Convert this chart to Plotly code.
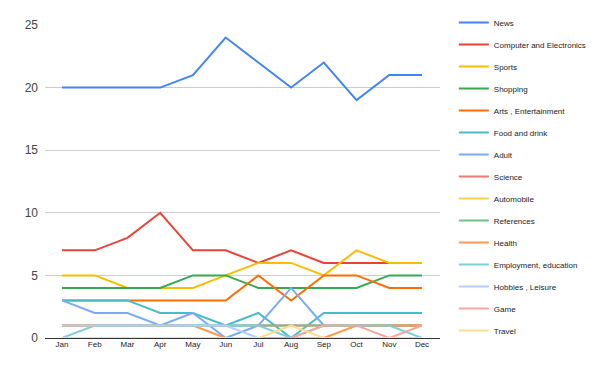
import plotly.graph_objects as go

months = ["Jan", "Feb", "Mar", "Apr", "May", "Jun", "Jul", "Aug", "Sep", "Oct", "Nov", "Dec"]

news = [20, 20, 20, 20, 21, 24, 22, 20, 22, 19, 21, 21]
computer = [7, 7, 8, 10, 7, 7, 6, 7, 6, 6, 6, 6]
sports = [5, 5, 4, 4, 4, 5, 6, 6, 5, 7, 6, 6]
shopping = [4, 4, 4, 4, 5, 5, 4, 4, 4, 4, 5, 5]
arts = [3, 3, 3, 3, 3, 3, 5, 3, 5, 5, 4, 4]
food = [3, 3, 3, 2, 2, 1, 2, 0, 2, 2, 2, 2]
adult = [3, 2, 2, 1, 2, 0, 1, 4, 1, 1, 1, 1]
science = [1, 1, 1, 1, 1, 1, 1, 1, 1, 1, 1, 1]
automobile = [0, 0, 0, 0, 0, 0, 0, 0, 0, 0, 0, 0]
references = [1, 1, 1, 1, 1, 1, 1, 1, 1, 1, 1, 1]
health = [1, 1, 1, 1, 1, 0, 0, 0, 0, 1, 1, 1]
employment = [0, 1, 1, 1, 1, 1, 1, 0, 1, 1, 1, 0]
hobbies = [1, 1, 1, 1, 1, 1, 0, 0, 0, 0, 0, 0]
game = [0, 0, 0, 0, 0, 0, 0, 0, 1, 1, 0, 1]
travel = [0, 0, 0, 0, 0, 0, 0, 1, 0, 0, 0, 0]

series_names = ["News", "Computer and Electronics", "Sports", "Shopping", "Arts , Entertainment",
                "Food and drink", "Adult", "Science", "Automobile", "References", "Health",
                "Employment, education", "Hobbies , Leisure", "Game", "Travel"]
series_values = [news, computer, sports, shopping, arts, food, adult, science, automobile,
                 references, health, employment, hobbies, game, travel]
colors = ["#4285F4", "#EA4335", "#FBBC04", "#34A853", "#FF6D01", "#46BDC6", "#7BAAF7",
          "#F07B72", "#FCD04F", "#71C287", "#FF994D", "#7ED1D7", "#B3CEFB", "#F7A7A0", "#FDDE8C"]

y_ticks = [0, 5, 10, 15, 20, 25]

fig = go.Figure()
x_idx = list(range(len(months)))
for i, (name, vals, col) in enumerate(zip(series_names, series_values, colors)):
    fig.add_trace(go.Scatter(
        x=x_idx, y=vals, name=name, mode="lines",
        line=dict(color=col, width=2),
        legendgroup=f"g{i}",
    ))

fig.update_layout(
    width=592, height=363,
    margin=dict(l=37, r=160, t=17, b=33, autoexpand=False),
    paper_bgcolor="white", plot_bgcolor="white",
    font=dict(family="Liberation Sans, Arial, sans-serif", color="#222"),
    showlegend=True,
    legend=dict(
        x=1.035, xanchor="left", y=1.054, yanchor="top",
        font=dict(size=8, color="#222"),
        tracegroupgap=3,
        itemwidth=30,
        maxheight=1.0,
        bgcolor="rgba(0,0,0,0)",
    ),
    xaxis=dict(
        range=[-0.52, 11.55],
        tickmode="array", tickvals=x_idx, ticktext=months,
        showgrid=False, zeroline=False, showline=False,
        tickfont=dict(size=8, color="#222"),
        ticks="", ticklen=0, automargin=False,
    ),
    yaxis=dict(
        range=[0, 25], tickmode="array", tickvals=y_ticks,
        showgrid=True, gridcolor="#cccccc", gridwidth=1,
        zeroline=True, zerolinecolor="#333333", zerolinewidth=1,
        tickfont=dict(size=12, color="#444"),
        ticks="", ticklabelstandoff=6, automargin=False,
    ),
)

fig.write_html("out.html")
